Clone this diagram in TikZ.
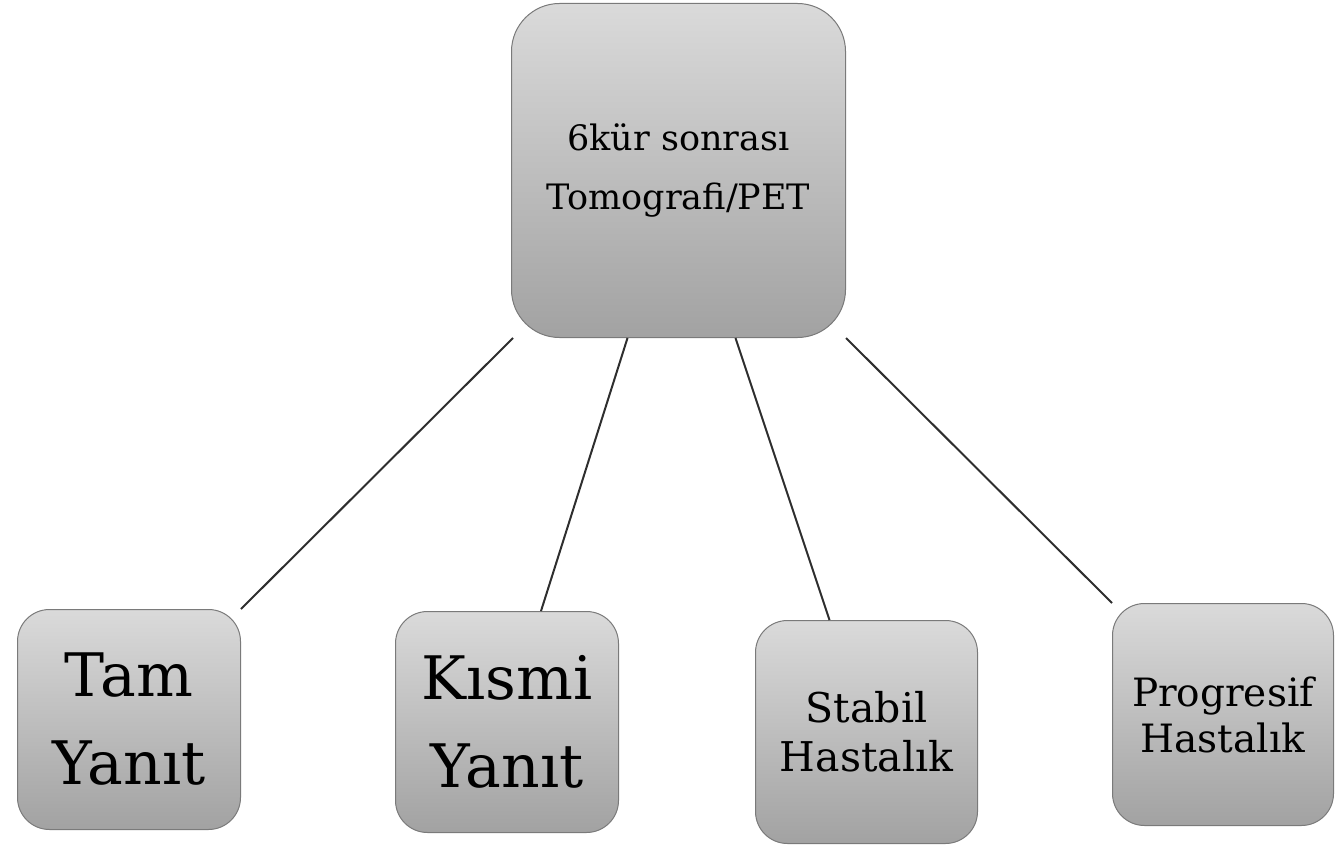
\documentclass[tikz,border=0pt]{standalone}
\usepackage{fontspec}
\setmainfont{DejaVu Serif}
\definecolor{boxtop}{HTML}{DADADA}
\definecolor{boxbottom}{HTML}{A2A2A2}
\definecolor{boxedge}{HTML}{7A7A7A}
\definecolor{linkcol}{HTML}{2E2E2E}
\tikzset{
  card/.style={rectangle, draw=boxedge, line width=1pt, top color=boxtop,
    bottom color=boxbottom, align=center, inner sep=0pt, anchor=north west},
  link/.style={draw=linkcol, line width=2pt}
}
\begin{document}
\begin{tikzpicture}[x=1pt,y=-1pt]
\useasboundingbox (0,0) rectangle (1343,845);
% root box
\node[card, rounded corners=48pt, minimum width=334pt, minimum height=334pt,
      font=\fontsize{35}{59}\selectfont] (root) at (511,3)
      {6kür sonrası\\Tomografi/PET};
% outcome boxes
\node[card, rounded corners=32pt, minimum width=223pt, minimum height=220pt,
      font=\fontsize{60}{88}\selectfont] (tam) at (17,609) {Tam\\Yanıt};
\node[card, rounded corners=32pt, minimum width=223pt, minimum height=221pt,
      font=\fontsize{60}{88}\selectfont] (kismi) at (395,611) {Kısmi\\Yanıt};
\node[card, rounded corners=32pt, minimum width=222pt, minimum height=223pt,
      font=\fontsize{41}{49}\selectfont] (stabil) at (755,620) {Stabil\\Hastalık};
\node[card, rounded corners=32pt, minimum width=221pt, minimum height=222pt,
      font=\fontsize{39}{46}\selectfont] (prog) at (1112,603) {Progresif\\Hastalık};
% connectors
\draw[link] ([xshift=2pt]root.south west) -- (tam.north east);
\draw[link] ([xshift=-51pt]root.south) -- ([xshift=34pt]kismi.north);
\draw[link] ([xshift=57pt]root.south) -- ([xshift=-37pt]stabil.north);
\draw[link] (root.south east) -- (prog.north west);
\end{tikzpicture}
\end{document}
